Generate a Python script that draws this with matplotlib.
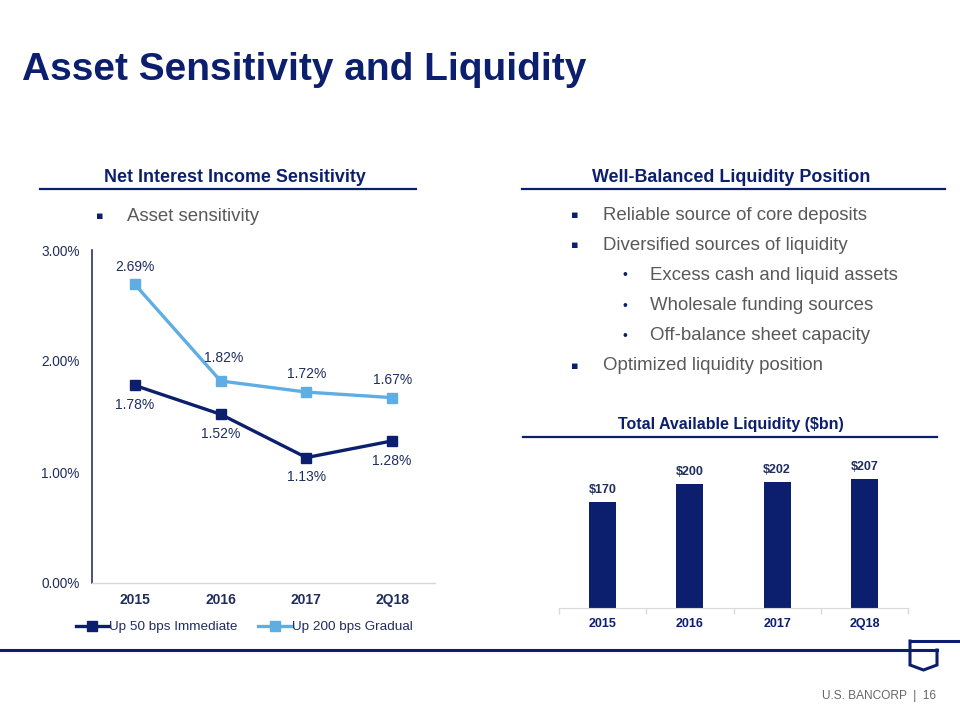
import matplotlib
matplotlib.use("Agg")
import matplotlib.pyplot as plt
from matplotlib.lines import Line2D
import numpy as np

plt.rcParams['font.family'] = ['Liberation Sans', 'DejaVu Sans']

# ---------------- data ----------------
nii_categories = ["2015", "2016", "2017", "2Q18"]
up50_immediate = [1.78, 1.52, 1.13, 1.28]
up200_gradual = [2.69, 1.82, 1.72, 1.67]
nii_yticks = [0.0, 1.0, 2.0, 3.0]

liq_categories = ["2015", "2016", "2017", "2Q18"]
liq_values = [170, 200, 202, 207]

right_bullets = [
    (0, "Reliable source of core deposits"),
    (0, "Diversified sources of liquidity"),
    (1, "Excess cash and liquid assets"),
    (1, "Wholesale funding sources"),
    (1, "Off-balance sheet capacity"),
    (0, "Optimized liquidity position"),
]

NAVY = "#0C1F6E"
LIGHT = "#5EAEE3"
GREY = "#595959"
LABEL = "#1F2D5F"

W, H = 960, 720
fig = plt.figure(figsize=(9.6, 7.2), dpi=100)

def fx(x):
    return x / W

def fy(y):
    return 1 - y / H

def hline(x0, x1, y, lw=1.6, color=NAVY):
    fig.add_artist(Line2D([fx(x0), fx(x1)], [fy(y), fy(y)], color=color, lw=lw,
                          transform=fig.transFigure))

# ---------------- title ----------------
fig.text(fx(22), fy(70), "Asset Sensitivity and Liquidity", fontsize=28, fontweight="bold",
         color=NAVY, ha="left", va="center")

# ---------------- section headers ----------------
fig.text(fx(235), fy(178), "Net Interest Income Sensitivity", fontsize=12.9, fontweight="bold",
         color=NAVY, ha="center", va="center")
hline(40, 416, 189)
fig.text(fx(731), fy(177), "Well-Balanced Liquidity Position", fontsize=12.9, fontweight="bold",
         color=NAVY, ha="center", va="center")
hline(522, 945, 189)
fig.text(fx(731), fy(425), "Total Available Liquidity ($bn)", fontsize=11.5, fontweight="bold",
         color=NAVY, ha="center", va="center")
hline(523, 937, 437)

# ---------------- bullets ----------------
fig.text(fx(100), fy(216), "\u25aa", fontsize=8, color=NAVY, ha="center", va="center",
         family="DejaVu Sans")
fig.text(fx(127), fy(216), "Asset sensitivity", fontsize=13.4, color=GREY, ha="left", va="center")

y0 = 215
for i, (lvl, txt) in enumerate(right_bullets):
    yy = y0 + i * 30.2
    if lvl == 0:
        fig.text(fx(575), fy(yy), "\u25aa", fontsize=8, color=NAVY, ha="center", va="center",
                 family="DejaVu Sans")
        fig.text(fx(603), fy(yy), txt, fontsize=13.4, color=GREY, ha="left", va="center")
    else:
        fig.text(fx(625), fy(yy), "\u2022", fontsize=10, color=NAVY, ha="center", va="center")
        fig.text(fx(650), fy(yy), txt, fontsize=13.4, color=GREY, ha="left", va="center")

# ---------------- line chart ----------------
axl = fig.add_axes([fx(92), fy(583), fx(435) - fx(92), (583 - 250) / H])
x = np.arange(len(nii_categories))
axl.plot(x, up50_immediate, color=NAVY, lw=2.4, marker="s", ms=7, label="Up 50 bps Immediate")
axl.plot(x, up200_gradual, color=LIGHT, lw=2.4, marker="s", ms=7, label="Up 200 bps Gradual")
axl.set_xlim(-0.5, len(x) - 0.5)
axl.set_ylim(0, 3)
axl.set_yticks(nii_yticks)
axl.set_yticklabels([f"{v:.2f}%" for v in nii_yticks], fontsize=9.8, color=LABEL)
axl.set_xticks(x)
axl.set_xticklabels(nii_categories, fontsize=10, fontweight="bold", color=LABEL)
axl.tick_params(axis="both", length=0)
axl.tick_params(axis="y", pad=9)
axl.tick_params(axis="x", pad=7)
for s in ["top", "right"]:
    axl.spines[s].set_visible(False)
axl.spines["left"].set_color("#2A3560")
axl.spines["left"].set_linewidth(1.2)
axl.spines["bottom"].set_color("#D9D9D9")
axl.spines["bottom"].set_linewidth(1.0)
axl.patch.set_alpha(0)

below_off = [(0, -20), (0, -20), (0, -19), (0, -20)]
above_off = [(0, 17), (3, 23), (0, 18), (0, 18)]
for i, v in enumerate(up50_immediate):
    axl.annotate(f"{v:.2f}%", (x[i], v), xytext=below_off[i], textcoords="offset pixels",
                 ha="center", va="center", fontsize=10, color=LABEL)
for i, v in enumerate(up200_gradual):
    axl.annotate(f"{v:.2f}%", (x[i], v), xytext=above_off[i], textcoords="offset pixels",
                 ha="center", va="center", fontsize=10, color=LABEL)

leg = fig.legend(handles=axl.get_lines(), loc="center", bbox_to_anchor=(fx(244), fy(627)),
                 ncol=2, frameon=False, fontsize=9.7, handlelength=2.5, handletextpad=0.0,
                 columnspacing=1.5, markerscale=1.0)
for t in leg.get_texts():
    t.set_color(LABEL)

# ---------------- bar chart ----------------
axb = fig.add_axes([fx(559), fy(608), fx(908) - fx(559), (608 - 440) / H])
xb = np.arange(len(liq_categories))
axb.bar(xb, liq_values, width=0.31, color=NAVY)
axb.set_xlim(-0.5, len(xb) - 0.5)
axb.set_ylim(0, 270)
axb.set_yticks([])
axb.set_xticks(xb)
axb.set_xticklabels(liq_categories, fontsize=9, fontweight="bold", color=NAVY)
axb.set_xticks(np.arange(-0.5, len(xb), 1.0), minor=True)
axb.tick_params(axis="x", which="major", length=0, pad=7)
axb.tick_params(axis="x", which="minor", length=4, color="#D9D9D9", width=1)
for s in ["top", "right", "left"]:
    axb.spines[s].set_visible(False)
axb.spines["bottom"].set_color("#D9D9D9")
axb.patch.set_alpha(0)
for i, v in enumerate(liq_values):
    axb.annotate(f"${v}", (xb[i], v), xytext=(0, 12), textcoords="offset pixels",
                 ha="center", va="center", fontsize=9, fontweight="bold", color=LABEL)

# ---------------- footer ----------------
hline(0, 937, 650, lw=2.2)
shield_x = [910, 910, 923.5, 937, 937]
shield_y = [641, 665, 670, 665, 650]
fig.add_artist(Line2D([fx(v) for v in shield_x], [fy(v) for v in shield_y], color=NAVY, lw=2.2,
                      transform=fig.transFigure, solid_joinstyle="miter"))
hline(910, 960, 641, lw=2.2)
fig.text(fx(936), fy(696), "U.S. BANCORP  |  16", fontsize=8.6, color="#666666",
         ha="right", va="center")

fig.savefig("out.png", dpi=100)
